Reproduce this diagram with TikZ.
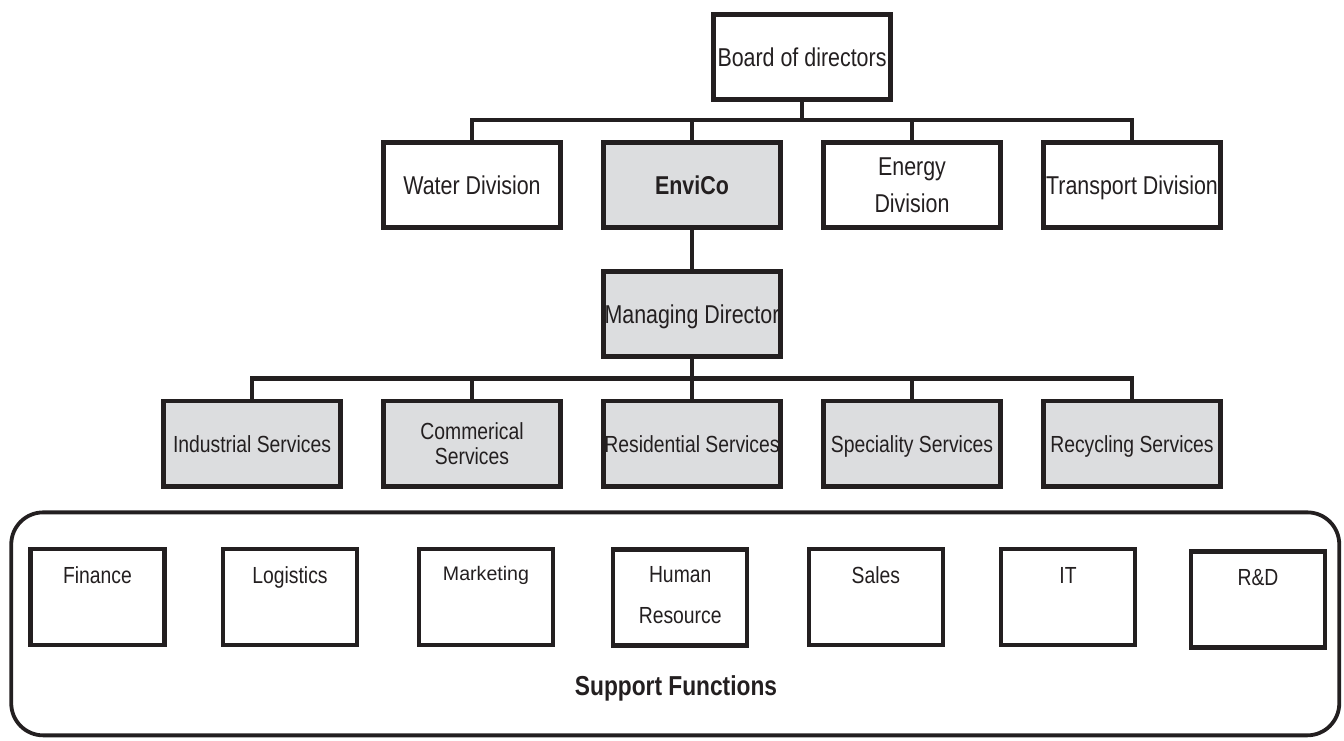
\documentclass[tikz,border=0pt]{standalone}
\usepackage{fontspec}
\setmainfont{Liberation Sans}[FakeStretch=0.83]
\newfontfamily\plainsans{Liberation Sans}
\definecolor{ink}{RGB}{35,31,32}
\definecolor{unitgray}{RGB}{220,221,223}
\tikzset{
  orgbox/.style={draw=ink, line width=4.8pt, minimum width=177.5pt, minimum height=85.2pt,
    inner sep=0pt, text=ink, align=center, text depth=0pt,
    font=\fontsize{25.8}{37}\selectfont},
  shaded/.style={fill=unitgray},
  unitfont/.style={font=\fontsize{23.3}{24.3}\selectfont},
  funcbox/.style={draw=ink, line width=4.5pt, minimum width=134pt, minimum height=96pt, inner sep=0pt},
  functext/.style={text=ink, inner sep=0pt, anchor=base, align=center,
    font=\fontsize{23.3}{40.7}\selectfont},
  groupbox/.style={draw=ink, line width=3.8pt, rounded corners=32pt, inner sep=0pt},
  conn/.style={draw=ink, line width=4.6pt},
}
\begin{document}
\begin{tikzpicture}[x=1pt, y=-1pt]
\useasboundingbox (0,0) rectangle (1344,740);

% group frame for the support functions
\node[groupbox, minimum width=1328pt, minimum height=223pt] (support) at (675.25,623.85) {};

% top of the hierarchy
\node[orgbox] (board) at (802,57) {Board of directors};

% divisions
\node[orgbox] (water) at (472,185) {Water Division};
\node[orgbox, shaded, font=\bfseries\fontsize{25.8}{37}\selectfont] (envico) at (692,185) {EnviCo};
\node[orgbox] (energy) at (912,185) {Energy\\Division};
\node[orgbox] (transport) at (1132,185) {Transport Division};

% management
\node[orgbox, shaded] (md) at (692,314) {Managing Director};

% service units
\node[orgbox, shaded, unitfont] (industrial) at (252,443.6) {Industrial Services};
\node[orgbox, shaded, unitfont] (commercial) at (472,443.6) {Commerical\\Services};
\node[orgbox, shaded, unitfont] (residential) at (692,443.6) {Residential Services};
\node[orgbox, shaded, unitfont] (speciality) at (912,443.6) {Speciality Services};
\node[orgbox, shaded, unitfont] (recycling) at (1132,443.6) {Recycling Services};

% connectors
\coordinate (bus1) at (802,120);
\foreach \n in {water,envico,energy,transport}
  \draw[conn] (board.south) -- (bus1) -| (\n.north);
\draw[conn] (envico.south) -- (md.north);
\coordinate (bus2) at (692,378.5);
\foreach \n in {industrial,commercial,residential,speciality,recycling}
  \draw[conn] (md.south) -- (bus2) -| (\n.north);

% support function boxes
\node[funcbox] (finance) at (97.4,597) {};
\node[funcbox] (logistics) at (290,597) {};
\node[funcbox] (marketing) at (486,597) {};
\node[funcbox] (hr) at (680.2,597.3) {};
\node[funcbox] (sales) at (875.8,597) {};
\node[funcbox] (it) at (1068,597) {};
\node[funcbox] (rd) at (1258,599.7) {};

\node[functext] (finance-t) at (97.4,583.3) {Finance};
\node[functext] (logistics-t) at (290,583.3) {Logistics};
\node[functext, font=\plainsans\fontsize{19.6}{22}\selectfont] (marketing-t) at (486,580.5) {Marketing};
\node[functext, anchor=center, text depth=0pt] (hr-t) at (680.2,595.3) {Human\\Resource};
\node[functext] (sales-t) at (875.8,583.3) {Sales};
\node[functext] (it-t) at (1068,583.3) {IT};
\node[functext] (rd-t) at (1258,585) {R\&D};

\node[functext, font=\bfseries\fontsize{27.4}{30}\selectfont] (support-t) at (676,695) {Support Functions};
\end{tikzpicture}
\end{document}
